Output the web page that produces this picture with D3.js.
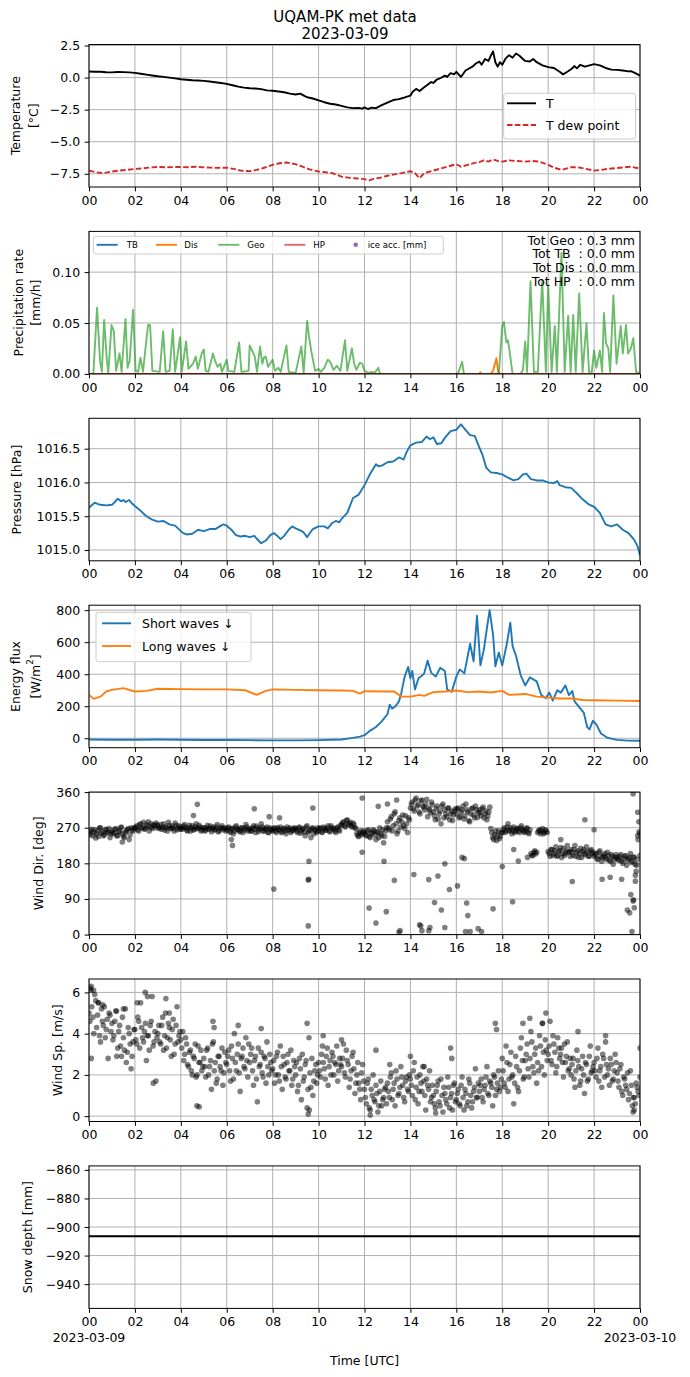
<!DOCTYPE html>
<html>
<head>
<meta charset="utf-8">
<script src="https://cdn.jsdelivr.net/npm/d3@7"></script>
<style>
body{margin:0;background:#fff}
text{font-family:"DejaVu Sans",sans-serif;fill:#000}
</style>
</head>
<body>
<svg id="fig" width="690" height="1377"></svg>
<script>
// ---- data (hour of day, value) ----
const hourTicks=[0,2,4,6,8,10,12,14,16,18,20,22,24]

const tempAir=[[0,0.48],[0.25,0.45],[0.5,0.46],[0.75,0.42],[1,0.41],[1.25,0.44],[1.5,0.43],[1.75,0.41],[2,0.37],[2.25,0.30],[2.5,0.23],[2.75,0.16],[3,0.10],[3.25,0.06],[3.5,0.0],[3.75,-0.06],[4,-0.13],[4.25,-0.17],[4.5,-0.21],[4.75,-0.23],[5,-0.26],[5.25,-0.31],[5.5,-0.36],[5.75,-0.42],[6,-0.49],[6.25,-0.60],[6.5,-0.70],[6.75,-0.78],[7,-0.83],[7.25,-0.85],[7.5,-0.90],[7.75,-1.0],[8,-1.03],[8.25,-1.08],[8.5,-1.14],[8.75,-1.25],[9,-1.32],[9.2,-1.25],[9.4,-1.45],[9.5,-1.53],[9.75,-1.63],[10,-1.78],[10.25,-1.92],[10.5,-2.04],[10.75,-2.10],[11,-2.20],[11.25,-2.32],[11.5,-2.38],[11.75,-2.36],[11.9,-2.42],[12,-2.32],[12.15,-2.45],[12.3,-2.35],[12.5,-2.38],[12.75,-2.15],[13,-1.95],[13.25,-1.75],[13.5,-1.68],[13.75,-1.55],[14,-1.40],[14.1,-1.10],[14.25,-0.88],[14.4,-1.05],[14.6,-0.75],[14.75,-0.55],[14.9,-0.35],[15,-0.42],[15.15,-0.15],[15.3,-0.05],[15.5,0.15],[15.6,0.05],[15.75,0.35],[15.9,0.25],[16,0.45],[16.2,0.05],[16.4,0.55],[16.5,0.65],[16.7,0.85],[16.85,1.10],[17,1.25],[17.1,1.00],[17.25,1.45],[17.4,1.30],[17.5,1.70],[17.6,2.04],[17.7,1.20],[17.8,0.85],[17.9,1.20],[18,1.00],[18.15,1.50],[18.3,1.75],[18.45,1.55],[18.6,1.88],[18.75,1.70],[18.9,1.45],[19,1.30],[19.2,1.25],[19.35,1.45],[19.5,1.20],[19.75,0.95],[20,0.82],[20.25,0.75],[20.5,0.45],[20.65,0.25],[20.8,0.42],[21,0.65],[21.15,0.90],[21.25,0.72],[21.4,1.00],[21.6,0.85],[21.8,0.95],[22,1.05],[22.25,0.95],[22.5,0.75],[22.75,0.62],[23,0.60],[23.25,0.55],[23.5,0.48],[23.6,0.50],[23.75,0.38],[24,0.15]]

const tempDew=[[0,-7.25],[0.3,-7.38],[0.6,-7.45],[1,-7.32],[1.3,-7.25],[1.6,-7.2],[2,-7.12],[2.3,-7.08],[2.6,-7.02],[3,-6.96],[3.3,-6.99],[3.6,-6.98],[4,-6.97],[4.3,-6.99],[4.6,-6.95],[5,-7.0],[5.3,-7.02],[5.6,-7.04],[6,-7.02],[6.3,-7.12],[6.6,-7.25],[7,-7.3],[7.3,-7.2],[7.6,-7.05],[8,-6.8],[8.3,-6.68],[8.6,-6.62],[9,-6.75],[9.3,-6.95],[9.6,-7.15],[10,-7.32],[10.3,-7.38],[10.6,-7.45],[11,-7.72],[11.3,-7.8],[11.6,-7.85],[12,-7.92],[12.2,-8.02],[12.4,-7.9],[12.7,-7.8],[13,-7.65],[13.3,-7.55],[13.6,-7.45],[14,-7.3],[14.2,-7.45],[14.4,-7.85],[14.55,-7.55],[14.7,-7.4],[15,-7.25],[15.3,-7.1],[15.6,-6.95],[16,-6.75],[16.2,-6.95],[16.5,-6.8],[16.8,-6.65],[17,-6.6],[17.2,-6.45],[17.4,-6.55],[17.6,-6.38],[17.8,-6.5],[18,-6.55],[18.3,-6.45],[18.6,-6.5],[19,-6.55],[19.3,-6.5],[19.6,-6.55],[20,-6.8],[20.3,-7.05],[20.6,-7.2],[21,-6.98],[21.3,-7.0],[21.6,-7.1],[22,-7.25],[22.3,-7.2],[22.6,-7.12],[23,-7.05],[23.3,-7.0],[23.6,-6.95],[24,-7.1]]

const precipTB=[[0,0],[24,0]]
const precipDis=[[0,0],[17.0,0],[17.05,0.0015],[17.1,0],[17.5,0],[17.6,0.003],[17.75,0.0155],[17.82,0.002],[17.9,0],[24,0]]
const precipGeo=[[0,0],[0.19,0],[0.35,0.065],[0.48,0.013],[0.56,0.002],[0.66,0.053],[0.78,0.013],[0.84,0.001],[0.98,0.048],[1.08,0.042],[1.18,0.003],[1.33,0.020],[1.42,0.002],[1.59,0.054],[1.68,0.006],[1.77,0.013],[1.92,0.063],[2.03,0.003],[2.14,0.002],[2.24,0.016],[2.35,0.002],[2.57,0.048],[2.66,0.048],[2.76,0.003],[3.08,0.002],[3.23,0.042],[3.34,0.002],[3.51,0.003],[3.65,0.044],[3.75,0.002],[3.97,0.036],[4.04,0.002],[4.23,0.032],[4.33,0.005],[4.45,0.008],[4.53,0.01],[4.65,0.017],[4.74,0.005],[4.91,0.020],[5.0,0.024],[5.08,0.003],[5.2,0.002],[5.4,0.020],[5.49,0.013],[5.6,0.007],[5.72,0.01],[5.79,0.002],[6.0,0.014],[6.07,0.003],[6.33,0.002],[6.54,0.031],[6.64,0.002],[6.95,0.003],[7.0,0.028],[7.1,0.023],[7.22,0.017],[7.32,0.002],[7.45,0.027],[7.55,0.01],[7.62,0.016],[7.7,0.017],[7.8,0.007],[8.0,0.014],[8.1,0.003],[8.25,0.006],[8.35,0.002],[8.6,0.028],[8.7,0.002],[9.0,0.001],[9.25,0.027],[9.35,0.001],[9.5,0.052],[9.6,0.034],[9.7,0.02],[9.85,0.003],[10.0,0.005],[10.1,0.002],[10.25,0.006],[10.4,0.014],[10.5,0.012],[10.65,0.004],[10.8,0.008],[10.95,0.003],[11.15,0.033],[11.25,0.003],[11.45,0.025],[11.55,0.01],[11.65,0.004],[11.8,0.011],[11.9,0.010],[12.0,0.003],[12.15,0.001],[12.3,0.002],[12.45,0.001],[12.6,0.006],[12.68,0],[16.0,0],[16.1,0.002],[16.25,0.012],[16.33,0],[17.85,0],[18.0,0.047],[18.07,0.051],[18.18,0.031],[18.25,0.033],[18.32,0.022],[18.45,0],[18.8,0],[18.9,0.004],[19.0,0.032],[19.08,0.002],[19.23,0.091],[19.38,0.002],[19.55,0.002],[19.74,0.092],[19.9,0.002],[20.0,0.087],[20.15,0.002],[20.29,0.047],[20.38,0.002],[20.58,0.119],[20.72,0.002],[20.87,0.057],[20.98,0.002],[21.09,0.058],[21.2,0.002],[21.35,0.079],[21.5,0.002],[21.67,0.05],[21.78,0.002],[21.9,0.002],[22.0,0.023],[22.1,0.006],[22.25,0.023],[22.35,0.002],[22.43,0.060],[22.52,0.030],[22.62,0.025],[22.7,0.002],[22.84,0.077],[22.98,0.01],[23.16,0.047],[23.25,0.020],[23.39,0.048],[23.48,0.02],[23.6,0.025],[23.71,0.035],[23.83,0.002],[24,0]]
const precipHP=[[0,0],[24,0]]
const precipTotals=["Tot Geo : 0.3 mm","Tot TB  : 0.0 mm","Tot Dis : 0.0 mm","Tot HP  : 0.0 mm"]

const pressure=[[0,1015.62],[0.1,1015.66],[0.25,1015.70],[0.4,1015.68],[0.5,1015.67],[0.75,1015.66],[1,1015.67],[1.1,1015.70],[1.25,1015.76],[1.4,1015.72],[1.5,1015.74],[1.6,1015.71],[1.75,1015.74],[1.9,1015.68],[2,1015.65],[2.25,1015.58],[2.5,1015.50],[2.75,1015.45],[3,1015.42],[3.25,1015.43],[3.5,1015.38],[3.75,1015.36],[4,1015.28],[4.1,1015.25],[4.25,1015.23],[4.5,1015.24],[4.75,1015.30],[5,1015.28],[5.25,1015.31],[5.5,1015.31],[5.75,1015.36],[5.85,1015.38],[6,1015.36],[6.2,1015.30],[6.4,1015.22],[6.6,1015.20],[6.8,1015.21],[7,1015.19],[7.2,1015.21],[7.3,1015.17],[7.5,1015.10],[7.7,1015.14],[7.9,1015.22],[8.05,1015.25],[8.2,1015.21],[8.35,1015.16],[8.5,1015.21],[8.7,1015.30],[8.85,1015.35],[9,1015.32],[9.2,1015.29],[9.35,1015.26],[9.5,1015.19],[9.6,1015.24],[9.75,1015.31],[10,1015.35],[10.25,1015.35],[10.4,1015.32],[10.6,1015.40],[10.75,1015.43],[10.9,1015.41],[11,1015.46],[11.25,1015.55],[11.5,1015.77],[11.75,1015.82],[12,1015.96],[12.25,1016.13],[12.5,1016.27],[12.6,1016.24],[12.75,1016.25],[13,1016.30],[13.25,1016.31],[13.5,1016.37],[13.7,1016.34],[13.85,1016.46],[14,1016.55],[14.25,1016.59],[14.5,1016.60],[14.7,1016.68],[14.85,1016.64],[15,1016.67],[15.15,1016.57],[15.35,1016.58],[15.5,1016.66],[15.75,1016.76],[16,1016.78],[16.2,1016.86],[16.4,1016.78],[16.6,1016.70],[16.8,1016.69],[17,1016.52],[17.15,1016.40],[17.3,1016.22],[17.5,1016.15],[17.75,1016.14],[18,1016.12],[18.25,1016.07],[18.5,1016.03],[18.7,1016.05],[18.9,1016.12],[19.05,1016.13],[19.25,1016.05],[19.5,1016.03],[19.75,1016.03],[20,1016.00],[20.25,1015.99],[20.4,1016.02],[20.5,1015.96],[20.75,1015.93],[21,1015.92],[21.25,1015.84],[21.5,1015.75],[21.75,1015.68],[22,1015.64],[22.25,1015.55],[22.5,1015.38],[22.75,1015.35],[23,1015.38],[23.25,1015.30],[23.5,1015.25],[23.75,1015.15],[23.9,1015.05],[24,1014.92]]

const shortWave=[[0,-8],[1,-9],[2,-9],[3,-8],[4,-9],[5,-11],[6,-11],[7,-12],[8,-13],[9,-13],[10,-12],[11,-8],[11.5,2],[11.8,10],[12,19],[12.25,48],[12.5,70],[12.75,105],[13,150],[13.1,210],[13.2,185],[13.35,200],[13.5,230],[13.6,280],[13.75,385],[13.9,445],[14,375],[14.08,420],[14.2,305],[14.35,375],[14.5,390],[14.6,405],[14.75,485],[14.9,410],[15.1,385],[15.3,440],[15.5,420],[15.6,305],[15.8,290],[16,385],[16.15,430],[16.35,405],[16.6,590],[16.75,480],[16.9,765],[17.05,455],[17.2,555],[17.35,705],[17.45,800],[17.6,645],[17.7,450],[17.85,535],[18,455],[18.2,590],[18.35,722],[18.45,575],[18.6,515],[18.8,395],[19,330],[19.2,380],[19.5,355],[19.7,270],[19.9,250],[20.05,285],[20.2,235],[20.4,300],[20.55,285],[20.75,330],[20.9,270],[21.05,295],[21.15,230],[21.35,195],[21.55,160],[21.7,70],[21.8,55],[21.95,110],[22.1,85],[22.3,30],[22.6,2],[23,-10],[23.5,-15],[24,-16]]
const longWave=[[0,271],[0.2,246],[0.5,260],[0.75,292],[1,302],[1.5,313],[2,292],[2.5,296],[3,309],[4,307],[5,305],[6,305],[6.8,300],[7.3,271],[7.7,296],[8,305],[9,302],[10,300],[11,298],[11.5,296],[11.8,279],[12,294],[13,292],[13.3,292],[13.6,260],[14,260],[14.4,271],[14.6,265],[15,288],[15.5,292],[16,298],[16.5,288],[17,292],[17.5,286],[18,296],[18.3,271],[18.8,275],[19,277],[19.5,260],[20,254],[20.5,248],[21,248],[21.5,239],[22,237],[23,235],[24,233]]

// wind direction, two interleaved runs of one value every 5 minutes (12 per hour)
const windDir=[258,262,250,265,255,248,270,260,252,266,258,245,
262,255,268,250,260,272,248,258,265,240,270,262,
268,275,262,280,270,266,278,285,272,268,276,282,
274,270,266,280,272,262,276,270,268,282,265,275,
272,268,278,264,270,262,275,266,280,268,272,265,
270,264,276,268,260,272,266,278,262,270,265,268,
265,272,258,268,262,275,266,260,270,264,278,262,
268,262,275,258,270,265,280,262,268,272,258,266,
262,270,258,266,272,260,268,255,264,270,262,268,
266,258,272,262,268,250,275,262,245,270,265,258,
262,270,258,268,264,275,260,270,266,258,272,262,
278,285,272,290,280,275,282,270,255,248,262,256,
258,250,265,245,255,262,240,258,270,250,232,262,
285,265,298,275,310,255,288,272,302,268,280,295,
320,335,312,345,328,305,340,322,330,298,315,335,
310,290,325,305,280,330,315,298,320,305,288,312,
305,320,298,315,292,330,310,285,318,302,325,296,
315,300,322,305,290,310,268,245,252,238,262,248,
258,270,262,280,265,255,272,262,268,258,275,262,
262,270,255,205,200,212,208,262,255,268,258,262,
210,198,215,205,222,200,212,195,218,205,225,210,
215,200,225,208,195,218,210,202,222,198,212,205,
198,205,190,212,185,200,195,208,188,202,178,195,
195,188,202,180,198,175,192,205,185,196,160,240]
const windDirB=[252,266,258,244,262,270,256,250,264,258,268,255,
258,266,250,262,270,255,245,262,268,252,264,270,
272,265,278,270,284,268,274,262,280,276,270,278,
268,278,272,264,270,284,268,274,262,276,270,266,
266,274,270,262,276,270,264,272,268,276,262,270,
262,270,266,274,268,264,272,260,268,275,270,262,
270,262,268,255,272,266,262,270,258,268,272,265,
262,270,266,274,260,268,272,262,266,258,270,264,
268,262,270,264,258,268,262,272,266,258,264,270,
262,270,256,266,260,272,258,264,268,255,262,270,
268,260,272,264,270,262,275,268,262,270,265,276,
282,275,288,278,284,272,278,268,250,258,252,262,
252,262,248,258,265,252,260,245,255,265,248,270,
270,292,262,305,280,262,295,285,275,300,258,290,
330,318,340,325,310,338,325,315,342,320,308,328,
300,318,292,312,325,295,305,320,290,312,302,318,
318,295,310,325,300,315,288,305,320,295,315,308,
308,318,295,312,300,322,258,240,262,250,242,258,
265,258,272,262,270,262,258,268,262,270,266,258,
268,258,265,200,208,204,258,265,262,255,265,258,
205,215,200,212,198,210,220,205,200,212,208,198,
208,215,198,212,205,195,215,205,210,198,215,208,
202,192,208,198,195,205,190,200,185,198,190,202,
190,198,185,192,200,188,195,182,195,178,190,260]
const windDirOutliers=[[1.45,234],[4.72,329],[4.55,301],[6.25,225],[6.2,240],[7.2,318],[7.85,298],[8.05,115],[8.3,295],[9.55,22],[9.58,185],[9.55,138],[9.57,140],[9.75,320],[11.9,208],[11.9,345],[12.2,67],[12.5,29],[12.85,185],[12.95,58],[12.6,324],[13.0,330],[13.3,137],[13.5,6],[13.55,10],[13.4,340],[14.15,152],[14.4,25],[14.45,22],[14.5,10],[14.8,139],[14.8,10],[14.85,18],[15.05,81],[15.2,148],[15.35,62],[15.5,179],[15.5,18],[15.7,114],[16.05,123],[16.25,195],[16.35,192],[16.45,80],[16.5,48],[16.4,8],[16.6,8],[16.95,15],[17.1,8],[17.6,65],[18.0,172],[18.45,83],[18.5,215],[18.7,186],[19.1,195],[21.05,134],[20.55,240],[21.6,290],[22.0,265],[22.35,140],[22.7,145],[23.2,140],[23.45,62],[23.55,55],[23.6,101],[23.65,8],[23.7,85],[23.72,88],[23.75,68],[23.8,150],[23.8,135],[23.85,175],[23.7,356],[23.9,309],[23.95,285],[24.0,200],[23.9,250],[24.0,255]]

// wind speed, two interleaved runs of one value every 5 minutes
const windSpeed=[5.0,6.1,4.8,5.9,4.3,5.5,3.6,4.6,5.3,4.2,2.8,4.9,
4.5,3.9,5.1,3.3,4.4,2.9,3.8,5.2,3.1,4.0,2.3,3.6,
4.2,3.5,4.6,5.5,3.8,4.1,2.7,3.9,4.4,5.8,3.6,1.7,
4.0,3.6,4.4,3.2,5.0,3.8,4.3,2.9,4.7,3.5,5.3,3.9,
3.7,4.1,3.0,3.5,2.4,3.2,2.0,2.8,1.9,3.4,2.6,2.2,
2.8,1.9,3.3,2.4,1.3,3.6,2.6,1.8,2.9,2.2,1.5,3.1,
2.5,3.2,1.7,2.8,4.0,2.2,3.5,1.2,2.9,2.4,3.8,1.9,
2.6,3.3,1.5,2.9,0.7,2.4,3.1,1.9,2.8,3.6,2.0,2.6,
2.3,1.6,2.9,2.0,3.4,1.3,2.5,1.8,3.0,2.2,1.5,2.7,
2.0,1.2,2.8,0.8,1.7,2.5,0.4,3.8,1.4,1.0,2.2,1.6,
2.6,1.9,3.4,2.3,2.9,1.5,2.7,3.1,2.0,2.5,1.7,2.8,
2.4,3.5,1.9,2.7,1.4,2.2,3.1,1.1,2.0,1.6,0.8,2.5,
1.3,0.6,1.8,0.3,1.0,0.8,1.5,0.2,1.2,0.5,0.9,1.4,
1.6,0.9,2.1,1.3,0.5,1.8,1.1,2.4,1.5,0.7,1.9,1.2,
1.8,1.0,2.6,1.4,0.6,2.0,1.2,1.7,0.3,1.5,2.2,0.9,
1.0,0.4,1.5,0.7,1.8,0.2,1.1,0.6,1.4,0.9,0.3,1.6,
0.8,1.3,0.5,1.9,0.3,1.1,0.7,1.6,0.4,1.2,2.3,0.9,
1.2,1.8,0.7,1.5,2.4,1.0,1.6,0.5,1.9,1.3,2.2,1.4,
2.8,1.6,3.4,1.2,2.5,1.9,0.6,2.9,1.4,2.2,3.8,1.8,
2.7,3.5,1.9,4.1,2.4,3.0,1.6,2.2,3.4,4.5,2.0,3.2,
3.0,4.6,2.5,3.5,2.1,3.8,2.8,3.3,1.9,2.6,3.6,2.3,
2.0,2.8,1.4,3.2,2.4,1.7,2.9,1.1,2.5,1.8,3.4,2.2,
2.6,1.9,3.3,2.2,1.4,2.8,3.6,2.0,1.5,2.5,1.8,3.0,
2.1,1.4,2.5,1.0,1.8,1.3,0.8,2.2,0.5,0.9,1.6,1.2]
const windSpeedB=[4.6,5.3,4.0,5.6,4.9,3.9,5.2,4.4,3.8,4.7,5.0,4.1,
3.7,4.6,2.9,4.1,3.4,4.8,3.2,2.6,4.3,3.5,2.9,4.2,
3.7,4.8,3.3,4.3,3.6,4.5,3.9,3.2,4.6,3.4,4.1,3.8,
4.4,3.5,4.8,3.9,3.3,4.5,3.7,4.2,3.0,4.4,3.6,4.1,
3.3,2.7,3.8,2.5,3.1,2.2,2.9,3.5,2.0,2.6,3.2,2.4,
2.4,3.2,2.0,2.7,3.5,2.2,1.6,2.9,2.4,3.3,2.1,2.6,
2.9,2.2,3.4,1.8,2.6,3.0,2.1,2.8,3.3,2.3,2.7,3.5,
3.0,2.2,2.7,1.8,3.3,2.5,2.1,2.9,1.6,2.4,3.0,2.2,
2.7,2.0,3.1,1.7,2.4,2.9,1.9,2.6,2.2,3.2,1.8,2.4,
2.6,1.5,2.3,3.0,1.9,2.7,1.3,2.1,2.8,1.7,2.5,2.0,
2.2,3.0,2.6,1.8,3.3,2.4,2.0,2.9,2.6,3.4,2.2,2.5,
2.8,2.1,3.2,2.5,1.8,2.9,2.3,1.6,2.6,1.3,2.1,1.7,
0.9,1.6,0.4,1.3,2.0,0.7,1.1,0.5,1.7,0.8,1.3,0.6,
1.2,1.9,0.8,1.6,2.2,1.0,1.4,1.9,0.9,1.7,1.3,2.0,
1.5,2.2,0.8,1.9,1.2,1.6,2.4,1.0,1.8,1.3,0.7,1.5,
0.6,1.2,1.7,0.5,1.0,1.4,0.8,1.9,0.4,1.1,1.5,0.7,
1.1,0.6,1.5,0.9,1.3,0.5,1.8,1.0,0.7,1.4,0.9,1.6,
1.5,0.9,1.3,1.9,1.1,1.7,1.4,2.0,1.0,1.6,1.2,1.8,
2.2,1.4,2.6,1.8,3.1,2.0,1.6,2.4,1.2,3.3,2.7,1.9,
3.0,2.3,2.8,3.6,2.1,3.3,2.6,3.9,2.4,3.1,3.7,2.7,
3.4,2.7,3.9,3.1,2.4,3.3,3.0,2.6,3.5,2.9,2.2,2.8,
2.5,1.8,2.2,2.7,1.5,2.3,2.0,2.6,1.7,2.9,2.1,2.4,
2.2,2.8,1.7,2.4,3.0,1.9,2.5,2.3,2.8,1.7,2.2,2.6,
1.7,2.3,1.2,1.9,1.5,2.1,1.1,1.5,0.9,0.6,1.4,1.0]
const windSpeedOutliers=[[0.05,6.2],[0.1,6.3],[0.2,6.1],[0.1,2.8],[0.4,5.5],[0.6,5.4],[1.2,5.1],[1.5,5.2],[2.1,5.5],[2.45,6.0],[2.55,5.8],[2.8,1.6],[3.35,5.7],[3.5,5.0],[4.7,0.5],[4.8,0.45],[5.4,4.6],[5.45,4.3],[6.5,4.4],[7.5,4.25],[9.5,4.5],[9.55,0.1],[9.6,0.3],[10.2,3.9],[11.0,3.7],[12.25,0.05],[12.5,3.2],[13.1,2.5],[14.0,2.9],[14.6,2.4],[15.1,0.15],[15.75,3.3],[15.8,2.8],[17.7,4.5],[17.75,4.2],[18.9,4.5],[19.2,4.75],[19.9,5.0],[19.75,4.5],[21.3,4.1],[22.5,3.9],[23.7,0.2],[23.75,0.3],[24,3.3],[24,1.9]]

const snowDepth=[[0,-906.5],[24,-906.5]]
const dayLabels=["2023-03-09","2023-03-10"]

// ---- layout ----
const left=89,right=640,top0=44.5,step=186.9,ph=142.5
const FS=12.5
const svg=d3.select("#fig")
const defs=svg.append("defs")
const x=d3.scaleLinear().domain([0,24]).range([left,right])
const hh=d3.format("02d")

svg.append("text").attr("x",345).attr("y",22).attr("text-anchor","middle").attr("font-size",15).text("UQAM-PK met data")
svg.append("text").attr("x",345).attr("y",38.5).attr("text-anchor","middle").attr("font-size",15).text("2023-03-09")

function panel(i,o){
    let y0=top0+i*step, y1=y0+ph
    let y=d3.scaleLinear().domain(o.domain).range([y1,y0])
    defs.append("clipPath").attr("id","c"+i).append("rect").attr("x",left).attr("y",y0).attr("width",right-left).attr("height",ph)
    let grid=svg.append("g").attr("stroke","#b0b0b0").attr("stroke-width",1)
    grid.selectAll(".gx").data(hourTicks).join("line").attr("class","gx").attr("x1",d=>x(d)).attr("x2",d=>x(d)).attr("y1",y0).attr("y2",y1)
    grid.selectAll(".gy").data(o.ticks).join("line").attr("class","gy").attr("x1",left).attr("x2",right).attr("y1",d=>y(d)).attr("y2",d=>y(d))
    let plot=svg.append("g").attr("clip-path",`url(#c${i})`)
    let ax=svg.append("g").attr("transform",`translate(0,${y1})`).call(d3.axisBottom(x).tickValues(hourTicks).tickFormat(h=>hh(h%24)).tickSize(4.4).tickPadding(4.4))
    let ay=svg.append("g").attr("transform",`translate(${left},0)`).call(d3.axisLeft(y).tickValues(o.ticks).tickFormat(o.fmt).tickSize(4.4).tickPadding(4.4))
    for(let a of [ax,ay]){
        a.select(".domain").remove()
        a.attr("font-size",FS).attr("font-family","DejaVu Sans")
        a.selectAll("line").attr("stroke","#000").attr("stroke-width",1)
        a.selectAll("text").attr("fill","#000")
    }
    svg.append("rect").attr("x",left).attr("y",y0).attr("width",right-left).attr("height",ph).attr("fill","none").attr("stroke","#000").attr("stroke-width",1)
    //ylabel, one text per line
    o.label.forEach(([txt,lx])=>{
        let t=svg.append("text").attr("transform",`translate(${lx},${(y0+y1)/2}) rotate(-90)`).attr("text-anchor","middle").attr("dominant-baseline","central").attr("font-size",FS)
        if(typeof txt=="string") t.text(txt)
        else txt.forEach(p=>t.append("tspan").attr("font-size",p.sup?FS*0.7:FS).attr("dy",p.sup?-5:(p.down?5:0)).text(p.t))
    })
    return {y,plot,y0,y1}
}

function drawLine(p,data,color,w,extra){
    let line=d3.line().x(d=>x(d[0])).y(d=>p.y(d[1]))
    let path=p.plot.append("path").datum(data).attr("d",line).attr("fill","none").attr("stroke",color).attr("stroke-width",w).attr("stroke-linejoin","round")
    if(extra) extra(path)
    return path
}

function drawDots(p,pts){
    p.plot.selectAll("circle").data(pts).join("circle").attr("cx",d=>x(d[0])).attr("cy",d=>p.y(d[1])).attr("r",2.8).attr("fill","#000").attr("fill-opacity",0.5)
}

function legendBox(x0,y0,w,h){
    svg.append("rect").attr("x",x0).attr("y",y0).attr("width",w).attr("height",h).attr("rx",2.5).attr("fill","#fff").attr("fill-opacity",0.8).attr("stroke","#cccccc").attr("stroke-width",1)
}

// 1 temperature
let p1=panel(0,{domain:[-8.53,2.58],ticks:[-7.5,-5,-2.5,0,2.5],fmt:d3.format(".1f"),label:[["Temperature",15.4],["[°C]",33.5]]})
drawLine(p1,tempAir,"#000",1.9)
drawLine(p1,tempDew,"#d62728",1.9,s=>s.attr("stroke-dasharray","5.5,2.4"))
legendBox(503.7,93.3,131.8,45.7)
svg.append("line").attr("x1",507).attr("x2",536).attr("y1",103.3).attr("y2",103.3).attr("stroke","#000").attr("stroke-width",1.9)
svg.append("line").attr("x1",507).attr("x2",536).attr("y1",125).attr("y2",125).attr("stroke","#d62728").attr("stroke-width",1.9).attr("stroke-dasharray","5.5,2.4")
svg.append("text").attr("x",546).attr("y",103.3).attr("dominant-baseline","central").attr("font-size",FS).text("T")
svg.append("text").attr("x",546).attr("y",125).attr("dominant-baseline","central").attr("font-size",FS).text("T dew point")

// 2 precipitation
let p2=panel(1,{domain:[0,0.14],ticks:[0,0.05,0.1],fmt:d3.format(".2f"),label:[["Precipitation rate",18],["[mm/h]",35]]})
drawLine(p2,precipTB,"#1f77b4",1.9)
drawLine(p2,precipDis,"#ff7f0e",1.9)
drawLine(p2,precipGeo,"#2ca02c",1.9,s=>s.attr("stroke-opacity",0.7))
drawLine(p2,precipHP,"#d62728",1.9,s=>s.attr("stroke-opacity",0.7))
legendBox(93.3,236.3,350,17.7)
const precipLegend=[["TB","#1f77b4",1,96.7,126.7],["Dis","#ff7f0e",1,156,184.3],["Geo","#2ca02c",0.7,218.3,247.3],["HP","#d62728",0.7,284.3,313.3]]
precipLegend.forEach(([n,c,op,lx,tx])=>{
    svg.append("line").attr("x1",lx).attr("x2",lx+21).attr("y1",244.8).attr("y2",244.8).attr("stroke",c).attr("stroke-opacity",op).attr("stroke-width",1.9)
    svg.append("text").attr("x",tx).attr("y",244.8).attr("dominant-baseline","central").attr("font-size",8.6).text(n)
})
svg.append("circle").attr("cx",355.7).attr("cy",244.8).attr("r",2.3).attr("fill","#9467bd")
svg.append("text").attr("x",367.7).attr("y",244.8).attr("dominant-baseline","central").attr("font-size",8.6).text("ice acc. [mm]")
precipTotals.forEach((t,k)=>{
    svg.append("text").attr("x",635).attr("y",244.5+k*13.7).attr("text-anchor","end").attr("font-size",FS).style("white-space","pre").text(t)
})

// 3 pressure
let p3=panel(2,{domain:[1014.84,1016.95],ticks:[1015,1015.5,1016,1016.5],fmt:d3.format(".1f"),label:[["Pressure [hPa]",16.3]]})
drawLine(p3,pressure,"#1f77b4",1.9)

// 4 radiation
let p4=panel(3,{domain:[-59,831],ticks:[0,200,400,600,800],fmt:d3.format("d"),label:[["Energy flux",15.4],[[{t:"[W/m"},{t:"2",sup:true},{t:"]",down:true}],35]]})
drawLine(p4,shortWave,"#1f77b4",1.9)
drawLine(p4,longWave,"#ff7f0e",1.9)
legendBox(96,612.3,155,49.4)
;[["Short waves ↓","#1f77b4",623.3],["Long waves ↓","#ff7f0e",646]].forEach(([n,c,ly])=>{
    svg.append("line").attr("x1",102).attr("x2",131).attr("y1",ly).attr("y2",ly).attr("stroke",c).attr("stroke-width",1.9)
    svg.append("text").attr("x",142).attr("y",ly).attr("dominant-baseline","central").attr("font-size",FS).text(n)
})

// 5 wind direction
let p5=panel(4,{domain:[0,360],ticks:[0,90,180,270,360],fmt:d3.format("d"),label:[["Wind Dir. [deg]",38.7]]})
drawDots(p5,windDir.map((v,k)=>[k/12,v]).concat(windDirB.map((v,k)=>[k/12+1/24,v]),windDirOutliers))

// 6 wind speed
let p6=panel(5,{domain:[-0.26,6.65],ticks:[0,2,4,6],fmt:d3.format("d"),label:[["Wind Sp. [m/s]",57]]})
drawDots(p6,windSpeed.map((v,k)=>[k/12,v]).concat(windSpeedB.map((v,k)=>[k/12+1/24,v]),windSpeedOutliers))

// 7 snow depth
let p7=panel(6,{domain:[-957,-857.2],ticks:[-940,-920,-900,-880,-860],fmt:d3.format("d"),label:[["Snow depth [mm]",27.3]]})
drawLine(p7,snowDepth,"#000",2)
dayLabels.forEach((t,k)=>{
    svg.append("text").attr("x",x(k*24)).attr("y",p7.y1+33.5).attr("text-anchor","middle").attr("font-size",FS).text(t)
})
svg.append("text").attr("x",(left+right)/2).attr("y",p7.y1+56.5).attr("text-anchor","middle").attr("font-size",FS).text("Time [UTC]")
</script>
</body>
</html>
